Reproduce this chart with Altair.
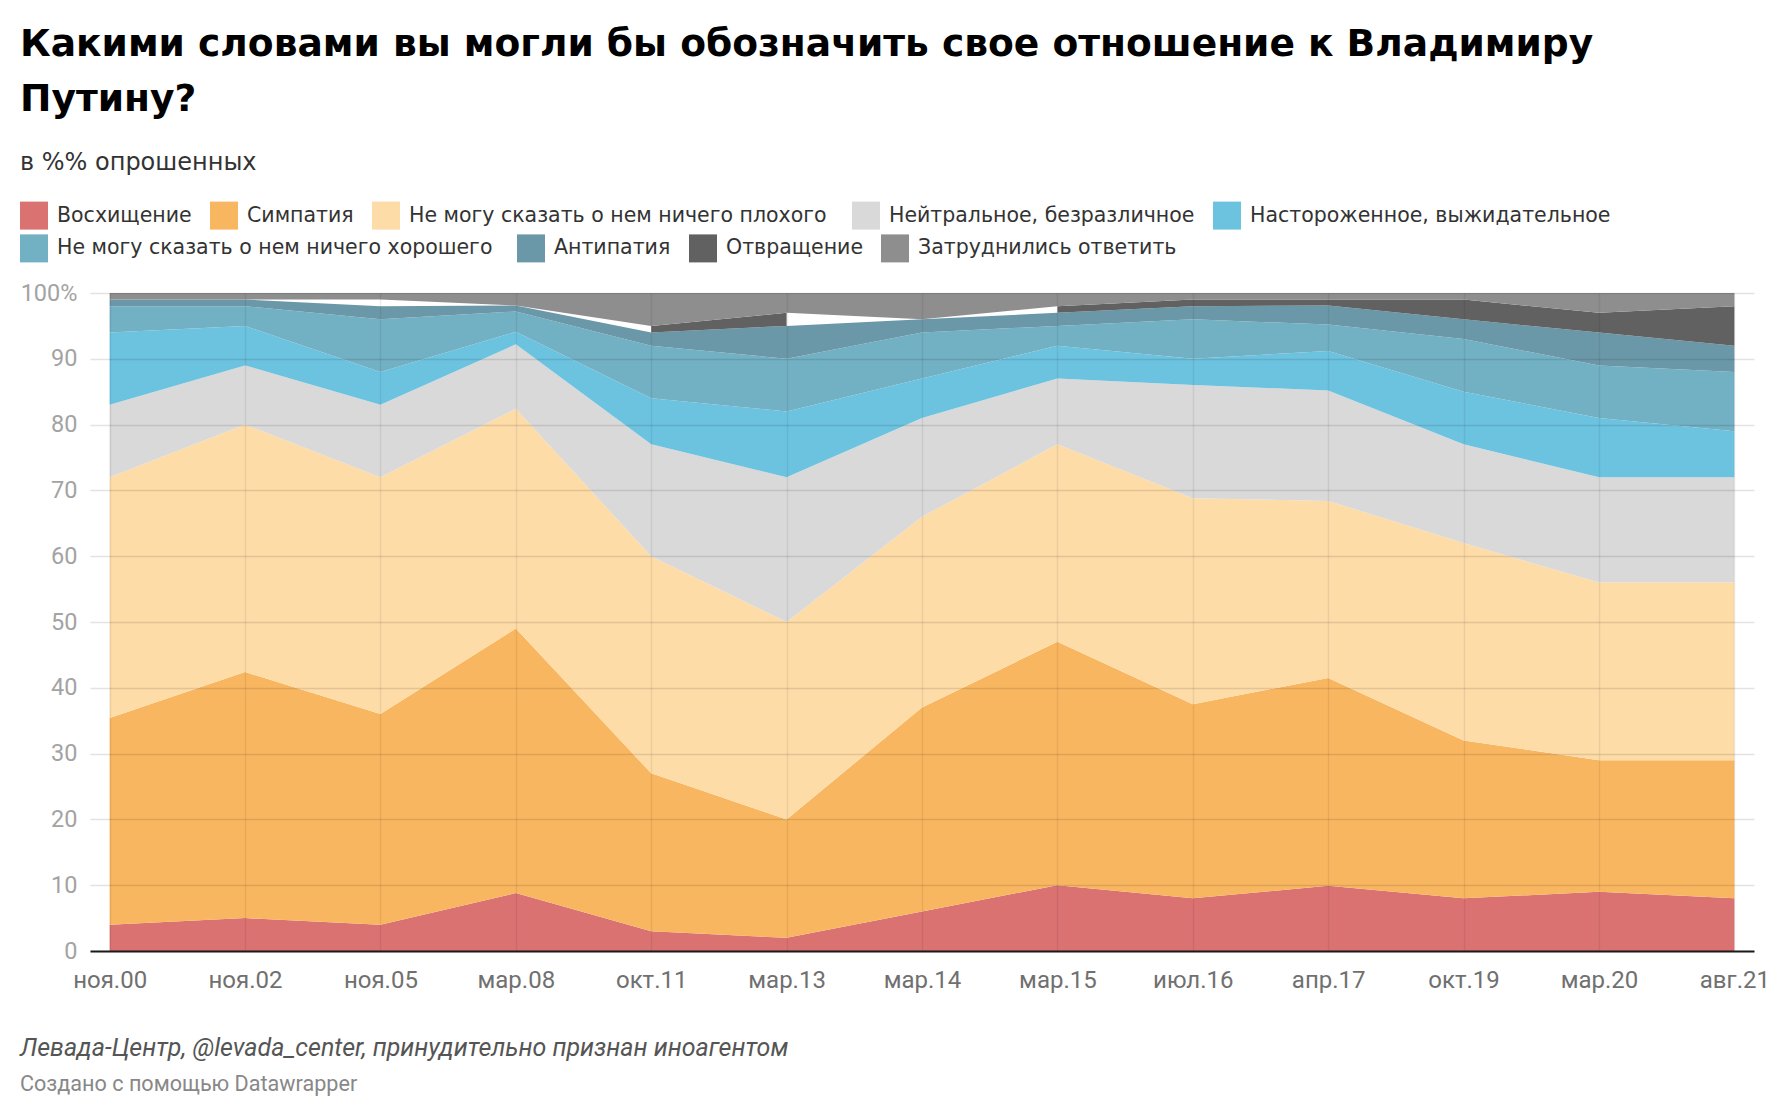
import altair as alt
import pandas as pd

# ---- data ----
dates = ["ноя.00", "ноя.02", "ноя.05", "мар.08", "окт.11", "мар.13", "мар.14",
         "мар.15", "июл.16", "апр.17", "окт.19", "мар.20", "авг.21"]

series = [
    "Восхищение",
    "Симпатия",
    "Не могу сказать о нем  ничего плохого",
    "Нейтральное, безразличное",
    "Настороженное, выжидательное",
    "Не могу сказать о нем  ничего хорошего",
    "Антипатия",
    "Отвращение",
    "Затруднились ответить",
]

colors = ["#db7272", "#f9b660", "#fddca8", "#d9d9d9", "#6cc3e0",
          "#72b0c4", "#6b98a8", "#616161", "#8e8e8e"]

admiration   = [4, 5, 4, 8.8, 3, 2, 6, 10, 8, 9.9, 8, 9, 8]
sympathy     = [31.4, 37.4, 32, 40.2, 24, 18, 31, 37, 29.5, 31.6, 24, 20, 21]
nothing_bad  = [36.6, 37.6, 36, 33.4, 33, 30, 29, 30, 31.3, 26.9, 30, 27, 27]
neutral      = [11, 9, 11, 9.8, 17, 22, 15, 10, 17.2, 16.8, 15, 16, 16]
wary         = [11, 6, 5, 1.9, 7, 10, 6, 5, 4, 6, 8, 9, 7]
nothing_good = [4, 3, 8, 3.1, 8, 8, 7, 3, 6, 4, 8, 8, 9]
antipathy    = [1, 1, 2, 0.9, 2, 5, 2, 2, 2, 2.9, 3, 5, 4]
disgust      = [None, None, 1, None, 1, 2, None, 1, 1, 0.9, 3, 3, 6]
hard_to_say  = [1, 1, 1, 1.9, 5, 3, 4, 2, 1, 1, 1, 3, 2]

y_ticks = [0, 10, 20, 30, 40, 50, 60, 70, 80, 90, 100]

title_lines = ["Какими словами вы могли бы обозначить свое отношение к Владимиру",
               "Путину?"]
subtitle = "в %% опрошенных"
source = "Левада-Центр, @levada_center, принудительно признан иноагентом"
credit = "Создано с помощью Datawrapper"

all_values = [admiration, sympathy, nothing_bad, neutral, wary,
              nothing_good, antipathy, disgust, hard_to_say]

rows = []
for si, (name, vals) in enumerate(zip(series, all_values)):
    for d, v in zip(dates, vals):
        rows.append({"date": d, "series": name, "order": si, "value": v})
df = pd.DataFrame(rows)

# legend is shown in two rows, like the original: first 5 entries, then 4
row1_series, row1_colors = series[:5], colors[:5]
row2_series, row2_colors = series[5:], colors[5:]
legend_df = pd.DataFrame({"series_row2": row2_series})

legend_common = dict(
    title=None, orient="none", legendX=-70, direction="horizontal",
    symbolType="square", symbolSize=784, symbolStrokeWidth=0, symbolOpacity=1,
    labelFont="DejaVu Sans", labelFontSize=20.5, labelColor="#333333",
    labelLimit=1000, labelOffset=9, columnPadding=18,
)

area = (
    alt.Chart(df)
    .transform_calculate(v0="isValid(datum.value) ? datum.value : 0")
    .transform_window(cum="sum(v0)", groupby=["date"],
                      sort=[alt.SortField("order")], frame=[None, 0])
    .transform_calculate(
        top="isValid(datum.value) ? datum.cum : null",
        bottom="isValid(datum.value) ? datum.cum - datum.v0 : null",
    )
    .mark_area(opacity=1, interpolate="linear", strokeWidth=0)
    .encode(
        x=alt.X("date:O", sort=dates,
                scale=alt.Scale(type="point", padding=0.145),
                axis=alt.Axis(title=None, labelAngle=0, labelFont="Roboto",
                              labelFontSize=24, labelColor="#707070",
                              labelPadding=17, ticks=False, domain=True,
                              domainColor="#1a1a1a", domainWidth=2,
                              grid=True, gridColor="#000000", gridOpacity=0.07,
                              gridWidth=1.5, zindex=1)),
        y=alt.Y("top:Q", stack=None,
                scale=alt.Scale(domain=[0, 100], nice=False),
                axis=alt.Axis(title=None, values=y_ticks,
                              labelExpr="datum.value == 100 ? '100%' : datum.label",
                              domain=False, ticks=False, grid=True,
                              gridColor="#000000", gridOpacity=0.11, gridWidth=1.3,
                              labelFont="Roboto", labelFontSize=23.5,
                              labelColor="#a3a3a3", labelPadding=13, zindex=1)),
        y2="bottom:Q",
        color=alt.Color("series:N", sort=series,
                        scale=alt.Scale(domain=series, range=colors),
                        legend=alt.Legend(values=row1_series, legendY=-91.4,
                                          **legend_common)),
    )
)

legend_row2 = (
    alt.Chart(legend_df)
    .mark_point(opacity=0, filled=True, size=1)
    .encode(
        fill=alt.Fill("series_row2:N", sort=row2_series,
                      scale=alt.Scale(domain=row2_series, range=row2_colors),
                      legend=alt.Legend(legendY=-58.6, **legend_common)),
    )
)

inner = (
    alt.layer(area, legend_row2)
    .resolve_scale(color="independent", fill="independent")
    .properties(
        width=1664, height=658,
        title=alt.TitleParams(
            text=source, subtitle=credit, orient="bottom", anchor="start",
            frame="bounds", font="Roboto", fontSize=25, fontStyle="italic",
            fontWeight="normal", color="#555555", subtitleFont="Roboto",
            subtitleFontSize=21.6, subtitleColor="#888888", subtitlePadding=13.4,
            offset=44),
    )
)

chart = (
    alt.vconcat(inner)
    .properties(
        title=alt.TitleParams(
            text=title_lines, subtitle=subtitle, anchor="start", frame="bounds",
            font="DejaVu Sans", fontSize=37.6, fontWeight="bold",
            color="#000000", lineHeight=55, subtitleFont="DejaVu Sans",
            subtitleFontSize=24, subtitleColor="#333333", subtitlePadding=32.3,
            offset=27),
        padding={"left": 12, "top": 17, "right": 0, "bottom": 6},
        background="white",
    )
    .configure_view(stroke=None)
)

chart.save("out.html", embed_options={"renderer": "svg", "actions": False})
